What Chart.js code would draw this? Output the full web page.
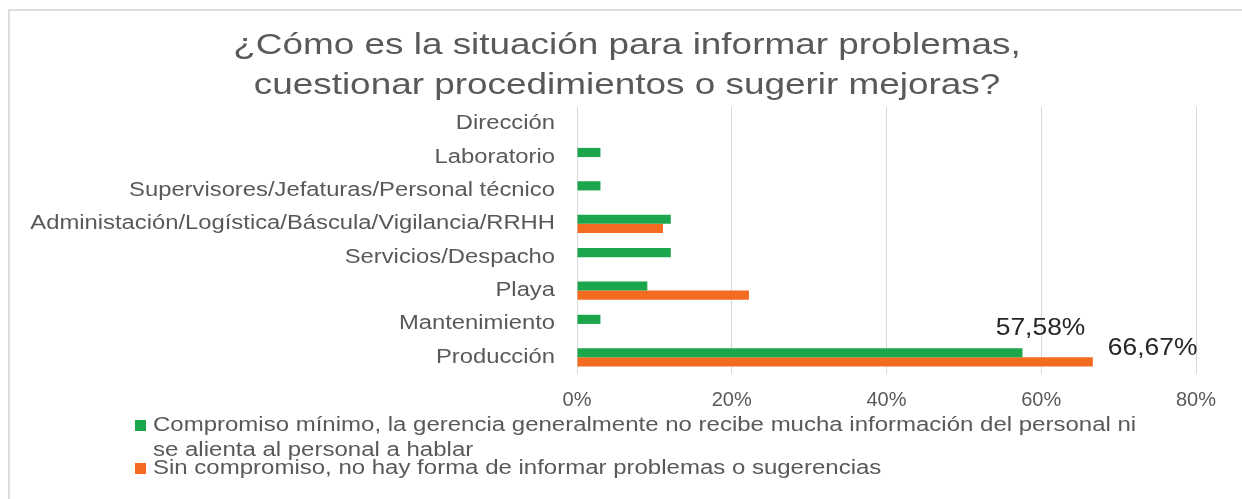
<!DOCTYPE html>
<html lang="es">
<head>
  <meta charset="UTF-8" />
  <title>Situación para informar problemas</title>
  <script src="https://cdn.jsdelivr.net/npm/chart.js@4.4.0/dist/chart.umd.min.js"></script>
  <style>
    html, body {
      margin: 0;
      padding: 0;
      background: #ffffff;
    }

    .chart-box {
      position: relative;
      width: 1242px;
      height: 499px;
    }
  </style>
</head>
<body>

  <div class="chart-box">
    <canvas id="barChart"></canvas>
  </div>

  <script>
    const titleLines = [
      '¿Cómo es la situación para informar problemas,',
      'cuestionar procedimientos o sugerir mejoras?'
    ];

    const categories = [
      'Dirección',
      'Laboratorio',
      'Supervisores/Jefaturas/Personal técnico',
      'Administación/Logística/Báscula/Vigilancia/RRHH',
      'Servicios/Despacho',
      'Playa',
      'Mantenimiento',
      'Producción'
    ];

    const minimoValues = [0, 3.03, 3.03, 12.12, 12.12, 9.09, 3.03, 57.58];
    const sinCompromisoValues = [0, 0, 0, 11.11, 0, 22.22, 0, 66.67];

    const seriesNames = [
      ['Compromiso mínimo, la gerencia generalmente no recibe mucha información del personal ni', 'se alienta al personal a hablar'],
      ['Sin compromiso, no hay forma de informar problemas o sugerencias']
    ];
    const seriesColors = ['#1ba64b', '#f26b21'];

    const tickValues = [0, 20, 40, 60, 80];

    // only the Producción bars carry a value label in the original
    const labeledIndex = 7;

    const grey = '#595959';
    const font = 'Liberation Sans, Arial, sans-serif';

    const fmtPct = v => v.toFixed(2).replace('.', ',') + '%';

    // the original's text is a bit wider than Arial, so stretch it sideways
    function wideText(ctx, text, x, y, sx) {
      ctx.save();
      ctx.translate(x, y);
      ctx.scale(sx, 1);
      ctx.fillText(text, 0, 0);
      ctx.restore();
    }

    // light frame on the top and left edges
    const framePlugin = {
      id: 'frame',
      beforeDraw(chart) {
        const ctx = chart.ctx;
        ctx.save();
        ctx.fillStyle = '#dedede';
        ctx.fillRect(8, 9, chart.width - 8, 2);
        ctx.fillRect(8, 9, 2, chart.height - 9);
        ctx.restore();
      }
    };

    // title and category labels, drawn stretched
    const textPlugin = {
      id: 'wideText',
      afterDraw(chart) {
        const ctx = chart.ctx;
        ctx.save();
        ctx.fillStyle = grey;
        ctx.textBaseline = 'middle';

        ctx.font = '30px ' + font;
        ctx.textAlign = 'center';
        titleLines.forEach((line, i) => wideText(ctx, line, 627, 46 + i * 40, 1.23));

        const yScale = chart.scales.y;
        ctx.font = '20px ' + font;
        ctx.textAlign = 'right';
        categories.forEach((cat, i) => {
          wideText(ctx, cat, yScale.right - 22, yScale.getPixelForTick(i), 1.19);
        });
        ctx.restore();
      }
    };

    // value labels for Producción
    const valueLabelPlugin = {
      id: 'valueLabels',
      afterDatasetsDraw(chart) {
        const ctx = chart.ctx;
        ctx.save();
        ctx.font = '24px ' + font;
        ctx.fillStyle = '#262626';
        ctx.textBaseline = 'middle';

        const g = chart.getDatasetMeta(0).data[labeledIndex];
        ctx.textAlign = 'center';
        wideText(ctx, fmtPct(minimoValues[labeledIndex]), g.x + 18, g.y - 24, 1.1);

        const o = chart.getDatasetMeta(1).data[labeledIndex];
        ctx.textAlign = 'left';
        wideText(ctx, fmtPct(sinCompromisoValues[labeledIndex]), o.x + 15, o.y - 14, 1.1);
        ctx.restore();
      }
    };

    // legend drawn by hand so the first entry can wrap onto two lines
    const legendPlugin = {
      id: 'wrapLegend',
      afterDraw(chart) {
        const ctx = chart.ctx;
        ctx.save();
        ctx.font = '20px ' + font;
        ctx.textBaseline = 'middle';
        ctx.textAlign = 'left';
        const rows = [
          { y: 425, step: 25 },
          { y: 468, step: 25 }
        ];
        seriesNames.forEach((lines, i) => {
          const r = rows[i];
          ctx.fillStyle = chart.data.datasets[i].backgroundColor;
          ctx.fillRect(135, r.y - 5, 11, 11);
          ctx.fillStyle = grey;
          lines.forEach((line, j) => wideText(ctx, line, 153, r.y + j * r.step, 1.2));
        });
        ctx.restore();
      }
    };

    const barCtx = document.getElementById('barChart').getContext('2d');

    const barChart = new Chart(barCtx, {
      type: 'bar',
      data: {
        labels: categories,
        datasets: [
          {
            label: seriesNames[0].join(' '),
            data: minimoValues,
            backgroundColor: seriesColors[0],
            borderWidth: 0,
            categoryPercentage: 0.55,
            barPercentage: 1.0
          },
          {
            label: seriesNames[1].join(' '),
            data: sinCompromisoValues,
            backgroundColor: seriesColors[1],
            borderWidth: 0,
            categoryPercentage: 0.55,
            barPercentage: 1.0
          }
        ]
      },
      options: {
        indexAxis: 'y',
        responsive: true,
        maintainAspectRatio: false,
        animation: false,
        layout: {
          padding: { left: 0, right: 46, top: 107, bottom: 73 }
        },
        scales: {
          x: {
            min: 0,
            max: 80,
            afterBuildTicks(scale) {
              scale.ticks = tickValues.map(v => ({ value: v }));
            },
            grid: {
              color: '#d9d9d9',
              lineWidth: 1,
              drawTicks: false
            },
            border: { display: false },
            ticks: {
              padding: 14,
              color: grey,
              font: { family: font, size: 20 },
              callback: v => v + '%'
            }
          },
          y: {
            afterFit(scale) {
              scale.width = 577;
            },
            grid: { display: false, drawTicks: false },
            border: { display: false },
            ticks: { display: false }
          }
        },
        plugins: {
          legend: { display: false },
          tooltip: { enabled: false },
          title: { display: false }
        }
      },
      plugins: [framePlugin, valueLabelPlugin, textPlugin, legendPlugin]
    });
  </script>

</body>
</html>
